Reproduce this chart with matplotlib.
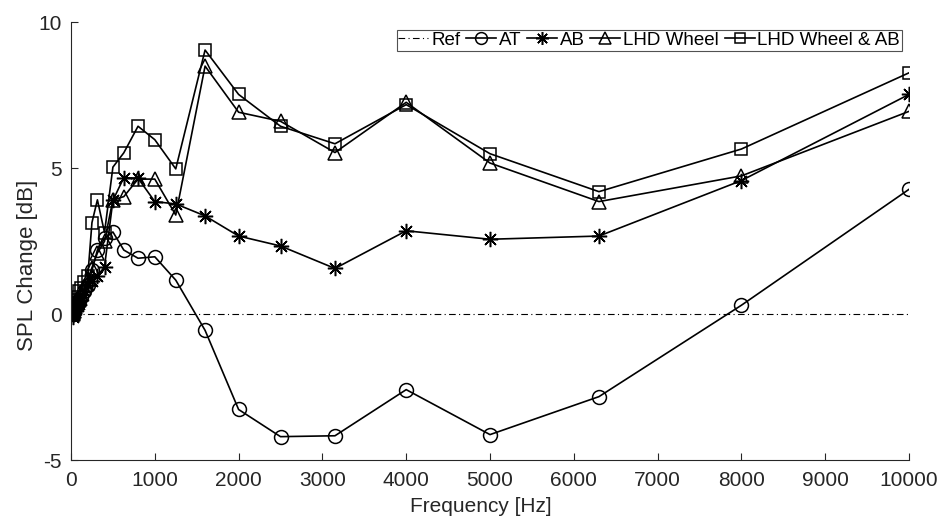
import matplotlib
matplotlib.use("Agg")
import matplotlib.pyplot as plt

plt.rcParams['font.family'] = ['Liberation Sans', 'DejaVu Sans']
plt.rcParams['axes.unicode_minus'] = False

freq = [20, 25, 31.5, 40, 50, 63, 80, 100, 125, 160, 200, 250, 315, 400, 500,
        630, 800, 1000, 1250, 1600, 2000, 2500, 3150, 4000, 5000, 6300, 8000, 10000]

ref = [0.0] * len(freq)
at = [0.0, 0.05, 0.1, 0.15, 0.2, 0.3, 0.4, 0.5, 0.6, 0.8, 1.0, 1.5, 2.2, 2.6, 2.82,
      2.2, 1.92, 1.97, 1.17, -0.55, -3.26, -4.19, -4.16, -2.58, -4.12, -2.82, 0.31, 4.28]
ab = [0.0, -0.1, 0.0, 0.1, 0.15, 0.2, 0.3, 0.35, 0.5, 0.8, 1.0, 1.15, 1.3, 1.63, 3.9,
      4.68, 4.66, 3.86, 3.78, 3.37, 2.68, 2.34, 1.57, 2.86, 2.57, 2.68, 4.58, 7.53]
lhd = [0.0, 0.05, 0.1, 0.2, 0.3, 0.4, 0.5, 0.6, 0.7, 0.9, 1.2, 1.6, 2.1, 2.5, 3.92,
       4.03, 4.63, 4.63, 3.4, 8.5, 6.92, 6.61, 5.54, 7.26, 5.18, 3.86, 4.74, 6.95]
lhd_ab = [0.0, 0.1, 0.2, 0.3, 0.4, 0.5, 0.6, 0.8, 0.9, 1.1, 1.3, 3.14, 3.92, 2.8, 5.04,
          5.53, 6.44, 5.98, 4.98, 9.05, 7.53, 6.44, 5.84, 7.18, 5.5, 4.2, 5.66, 8.27]

xticks = [0, 1000, 2000, 3000, 4000, 5000, 6000, 7000, 8000, 9000, 10000]
yticks = [-5, 0, 5, 10]

W, H = 942, 522
fig = plt.figure(figsize=(W / 100, H / 100), dpi=100)
ax_l, ax_r, ax_t, ax_b = 71, 909, 22.3, 460.3
ax = fig.add_axes([ax_l / W, 1 - ax_b / H, (ax_r - ax_l) / W, (ax_b - ax_t) / H])

txt = '#262626'
lw = 1.2
ms = 10
ax.plot(freq, ref, color='black', linestyle=(0, (6, 3, 1, 3)), linewidth=0.8, label='Ref')
ax.plot(freq, at, color='black', linewidth=lw, marker='o', markersize=ms,
        markerfacecolor='none', markeredgewidth=1.1, label='AT')
ax.plot(freq, ab, color='black', linewidth=lw, marker=(8, 2, 0), markersize=ms + 1,
        markeredgewidth=1.1, label='AB')
ax.plot(freq, lhd, color='black', linewidth=lw, marker='^', markersize=ms,
        markerfacecolor='none', markeredgewidth=1.1, label='LHD Wheel')
ax.plot(freq, lhd_ab, color='black', linewidth=lw, marker='s', markersize=ms - 1,
        markerfacecolor='none', markeredgewidth=1.1, label='LHD Wheel & AB')

ax.set_xlim(0, 10000)
ax.set_ylim(-5, 10)
ax.set_xticks(xticks)
ax.set_yticks(yticks)
ax.set_xticklabels([str(t) for t in xticks])
ax.set_yticklabels([str(t) for t in yticks])
ax.tick_params(direction='in', labelsize=15, length=5, width=0.8, colors=txt)
ax.tick_params(axis='x', pad=8)
ax.tick_params(axis='y', pad=6.5)
ax.spines['top'].set_visible(False)
ax.spines['right'].set_visible(False)
for s in ('left', 'bottom'):
    ax.spines[s].set_linewidth(0.8)
    ax.spines[s].set_color(txt)

ax.set_xlabel('Frequency [Hz]', fontsize=15, color=txt)
ax.set_ylabel('SPL Change [dB]', fontsize=16, color=txt)
ax.xaxis.set_label_coords(0.489, -0.0838)
ax.yaxis.set_label_coords(-0.0394, 0.446)

leg = ax.legend(loc='upper right', bbox_to_anchor=(0.9917, 0.9824), ncol=5,
                fontsize=13.5, frameon=True, fancybox=False, edgecolor=txt,
                handlelength=1.6, handletextpad=0.15, columnspacing=0.3,
                borderpad=0.1, borderaxespad=0.0, markerscale=0.85)
leg.get_frame().set_linewidth(0.8)
for t in leg.get_texts():
    t.set_color('black')

fig.savefig('out.png', dpi=100)
